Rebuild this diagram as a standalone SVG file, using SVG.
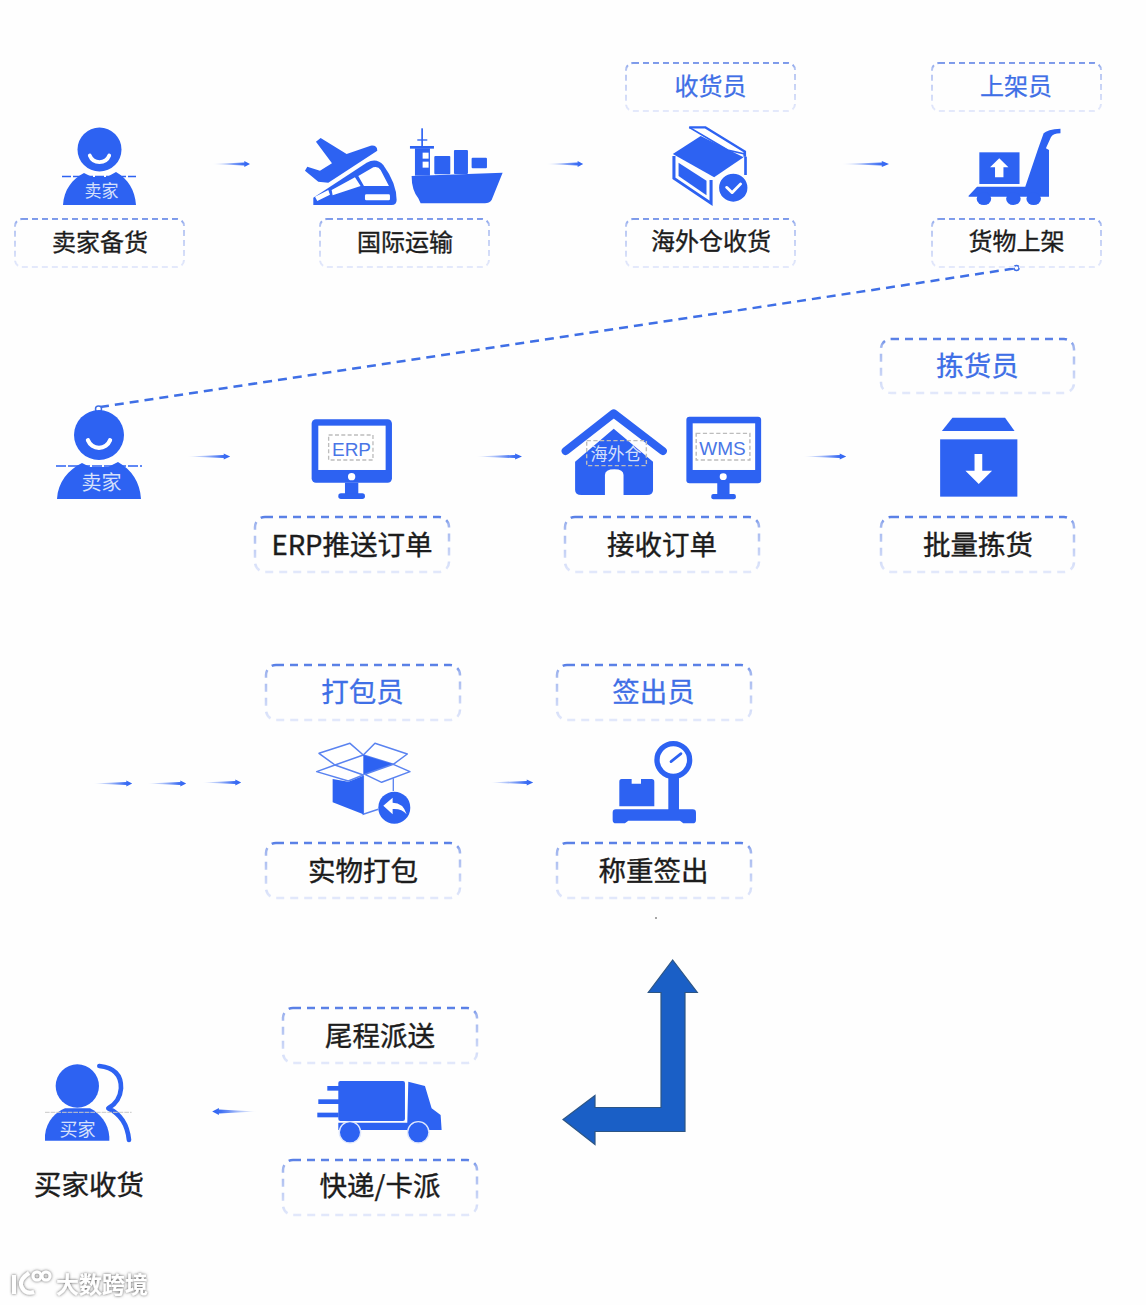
<svg xmlns="http://www.w3.org/2000/svg" width="1146" height="1305" viewBox="0 0 1146 1305">
<style>
text{font-family:"Noto Sans CJK SC","Noto Sans",sans-serif;text-anchor:middle}
.ic{fill:#2d62f2}
.w{fill:#fff}
.box1{fill:none;stroke:url(#g1);stroke-width:2;stroke-dasharray:6 4}
.box2{fill:none;stroke:url(#g2);stroke-width:2.500;stroke-dasharray:8 6}
.t24{font-size:24px;fill:#1c1c1c;stroke:#1c1c1c;stroke-width:.35}
.b24{font-size:24px;fill:#3f6fe6;stroke:#3f6fe6;stroke-width:.25}
.t28{font-size:27.5px;fill:#1c1c1c;stroke:#1c1c1c;stroke-width:.4}
.b28{font-size:27.5px;fill:#3f6fe6;stroke:#3f6fe6;stroke-width:.3}
.pl{fill:#d5e0fb}
.cap{fill:#4a76e6;font-family:"Liberation Sans",Arial,sans-serif}
.dash{fill:none;stroke:#bdbdbd;stroke-width:4;stroke-dasharray:12 7}
.ol{fill:#fff;stroke:#5a83f0;stroke-width:4.500;stroke-linejoin:round}
.wm{fill:#fff;font-size:23px;font-weight:700;filter:url(#sh)}
</style>
<defs>
<linearGradient id="g1" x1="0" y1="0" x2="0" y2="1"><stop offset="0" stop-color="#7d9aea"/><stop offset=".12" stop-color="#b4c4f2"/><stop offset="1" stop-color="#e4e9fb"/></linearGradient>
<linearGradient id="g2" x1="0" y1="0" x2="0" y2="1"><stop offset="0" stop-color="#587fe6"/><stop offset=".12" stop-color="#9fb4ee"/><stop offset="1" stop-color="#e2e8fb"/></linearGradient>
<linearGradient id="ag"><stop offset="0" stop-color="#2d62f2" stop-opacity="0"/><stop offset=".4" stop-color="#2d62f2" stop-opacity=".4"/><stop offset=".8" stop-color="#2d62f2" stop-opacity=".9"/><stop offset="1" stop-color="#2d62f2"/></linearGradient>
<path id="arr" d="M0 0 L34 -1.800 L34 -3.200 L40 0 L34 3.200 L34 1.800 Z" fill="url(#ag)"/>
<filter id="sh" x="-20%" y="-30%" width="140%" height="160%"><feDropShadow dx="0" dy="0" stdDeviation="1.500" flood-color="#555"/></filter>
<g id="smile"><path d="M-13 -2 A14 14 0 0 0 13 -2" fill="none" stroke="#fff" stroke-width="5" stroke-linecap="round"/></g>
</defs>
<rect width="1146" height="1305" fill="#fefefe"/>

<g id="connectors">
<use href="#arr" transform="translate(212,164) scale(.95,.9)"/>
<use href="#arr" transform="translate(546,164) scale(.93,.9)"/>
<use href="#arr" transform="translate(841,164) scale(1.2,.9)"/>
<use href="#arr" transform="translate(187,456.5) scale(1.08,.9)"/>
<use href="#arr" transform="translate(476,456.5) scale(1.15,.9)"/>
<use href="#arr" transform="translate(803,456.5) scale(1.08,.9)"/>
<use href="#arr" transform="translate(93,783.5) scale(.98,.9)"/>
<use href="#arr" transform="translate(147,783.5) scale(.98,.9)"/>
<use href="#arr" transform="translate(202,782.5) scale(.98,.9)"/>
<use href="#arr" transform="translate(490,782.5) scale(1.08,.9)"/>
<use href="#arr" transform="translate(257,1111.5) scale(-1.12,1.1)"/>
<path d="M100 407 L1014 268.500" fill="none" stroke="#3f6fe6" stroke-width="2.500" stroke-dasharray="9 6"/>
<circle cx="1016.500" cy="268" r="2.500" fill="#fff" stroke="#3f6fe6" stroke-width="1.500"/>
<circle cx="98.500" cy="409" r="3" fill="#fff" stroke="#3f6fe6" stroke-width="1.500"/>
<path id="big-arrow" d="M672.700 960 L697.300 992.500 L685 992.500 L685 1131.500 L595 1131.500 L595 1144.500 L563 1119.500 L595 1095.500 L595 1107.500 L661 1107.500 L661 992.500 L648.300 992.500 Z" fill="#1a5fc6" stroke="#2c5585" stroke-width="1.200"/>
<circle cx="656" cy="918" r="1" fill="#888"/>
</g>

<g id="seller-prep">
<circle class="ic" cx="99.500" cy="149.500" r="22"/>
<use href="#smile" transform="translate(99.500,157) scale(.75)"/>
<path class="ic" d="M63 205 C64 190 72 179 84 173 L92 177 L107 177 L116 172 C128 179 135 190 136 205 Z"/>
<path d="M62 176.500 H136" stroke="#2d62f2" stroke-width="1.500" stroke-dasharray="9 2"/>
<text x="101.500" y="197" font-size="17" class="pl">卖家</text>
<rect class="box1" x="15" y="219" width="169" height="48" rx="7"/>
<text class="t24" x="100" y="251">卖家备货</text>
</g>

<g id="intl-transport">
<g transform="translate(0,50) scale(.3333)">
<path class="ic" d="M948 275 L962 264 L1040 312 L1112 287 Q1132 285 1132 302 L985 398 L955 395 L915 362 L922 350 L960 362 L996 340 Z"/>
<path class="ic" d="M940 465 L940 443 L1100 338 Q1130 322 1150 345 Q1190 400 1190 450 Q1190 465 1175 465 Z"/>
<path class="w" d="M1075 378 L1120 352 Q1135 348 1142 360 L1167 408 L1092 408 Z M995 420 L1065 382 L1082 408 L998 436 Z M945 440 L985 420 L990 434 L952 453 Z"/>
<rect class="w" x="1095" y="433" width="75" height="18" rx="4"/>
<path class="ic" d="M1235 378 L1508 368 L1475 450 Q1468 460 1455 460 L1262 460 L1255 445 Q1235 420 1235 378 Z"/>
<rect class="ic" x="1303" y="318" width="48" height="55" rx="3"/>
<rect class="ic" x="1362" y="300" width="42" height="72" rx="3"/>
<rect class="ic" x="1415" y="323" width="46" height="32" rx="3"/>
<rect class="ic" x="1245" y="295" width="45" height="82"/>
<rect class="ic" x="1230" y="288" width="72" height="8"/>
<rect class="ic" x="1264" y="235" width="5" height="55"/>
<rect class="ic" x="1252" y="268" width="30" height="4"/>
<rect class="w" x="1268" y="308" width="18" height="18"/>
<rect class="w" x="1268" y="335" width="18" height="18"/>
</g>
<rect class="box1" x="320" y="219" width="169" height="48" rx="7"/>
<text class="t24" x="405" y="251">国际运输</text>
</g>

<g id="overseas-receive">
<rect class="box1" x="626" y="63" width="169" height="48" rx="7"/>
<text class="b24" x="710.500" y="95">收货员</text>
<g transform="translate(540,50) scale(.3827,.3333)">
<path class="ic" d="M347 312 L420 258 L532 322 L455 382 Z"/>
<path d="M390 232 L432 232 L535 305 L535 320" fill="#fff" stroke="#2d62f2" stroke-width="7"/>
<path d="M390 232 L490 300 L535 312" fill="none" stroke="#2d62f2" stroke-width="5"/>
<path d="M350 318 L350 385 L447 460 L447 390" fill="none" stroke="#2d62f2" stroke-width="8"/>
<path d="M537 320 L537 375" stroke="#2d62f2" stroke-width="7"/>
<path class="ic" d="M362 338 L435 392 L435 436 L362 378 Z"/>
<ellipse class="ic" cx="505" cy="413" rx="39" ry="44" stroke="#fff" stroke-width="4"/>
<path d="M488 412 L502 428 L524 402" fill="none" stroke="#fff" stroke-width="8" stroke-linecap="round" stroke-linejoin="round"/>
</g>
<rect class="box1" x="626" y="219" width="169" height="48" rx="7"/>
<text class="t24" x="711" y="250">海外仓收货</text>
</g>

<g id="putaway">
<rect class="box1" x="932" y="63" width="169" height="48" rx="7"/>
<text class="b24" x="1016" y="95">上架员</text>
<g transform="translate(540,50) scale(.3827,.3333)">
<rect class="ic" x="1148" y="307" width="105" height="95"/>
<path class="w" d="M1200 325 L1224 352 L1211 352 L1211 382 L1189 382 L1189 352 L1176 352 Z"/>
<path class="ic" d="M1120 437 L1142 410 L1268 410 L1302 295 L1316 250 Q1325 238 1360 236 L1360 250 Q1340 250 1335 262 L1322 295 L1330 300 L1330 440 L1120 440 Z"/>
<ellipse class="ic" cx="1160" cy="446" rx="19" ry="19"/>
<ellipse class="ic" cx="1237" cy="446" rx="19" ry="19"/>
<ellipse class="ic" cx="1290" cy="446" rx="19" ry="19"/>
</g>
<rect class="box1" x="932" y="219" width="169" height="48" rx="7"/>
<text class="t24" x="1016.500" y="250">货物上架</text>
</g>

<g id="seller-order">
<circle class="ic" cx="99" cy="435" r="25"/>
<use href="#smile" transform="translate(99,442) scale(.85)"/>
<path class="ic" d="M57 499 C58 482 68 470 82 463 L90 467 L108 467 L118 462 C132 470 140 482 141 499 Z"/>
<path d="M56 466 H142" stroke="#2d62f2" stroke-width="1.500" stroke-dasharray="10 2"/>
<text x="101.500" y="490" font-size="20" class="pl">卖家</text>
</g>

<g id="erp-push">
<g transform="translate(30,390) scale(.3333)">
<rect class="ic" x="845" y="88" width="241" height="190" rx="13"/>
<rect class="w" x="865" y="107" width="202" height="133"/>
<circle class="w" cx="965" cy="260" r="11"/>
<rect class="ic" x="945" y="278" width="40" height="36"/>
<rect class="ic" x="925" y="310" width="80" height="17" rx="8"/>
<rect class="dash" x="896" y="135" width="133" height="75"/>
</g>
<text x="351.500" y="456" font-size="19" class="cap">ERP</text>
<rect class="box2" x="255" y="517" width="194" height="55" rx="10"/>
<text class="t28" x="352" y="555">ERP推送订单</text>
</g>

<g id="receive-order">
<g transform="translate(540,330) scale(.351,.3333)">
<path class="ic" d="M100 395 L210 296 L322 395 L322 480 Q322 495 305 495 L238 495 L238 435 Q238 418 212 418 Q185 418 185 435 L185 495 L118 495 Q100 495 100 480 Z"/>
<path d="M73 363 L210 250 L350 363" fill="none" stroke="#2d62f2" stroke-width="24" stroke-linecap="round" stroke-linejoin="round"/>
<rect class="dash" x="133" y="332" width="170" height="75"/>
<rect class="ic" x="417" y="260" width="213" height="200" rx="9"/>
<rect class="w" x="435" y="280" width="178" height="140"/>
<circle class="w" cx="522" cy="440" r="10"/>
<rect class="ic" x="505" y="455" width="35" height="40"/>
<rect class="ic" x="488" y="492" width="70" height="16" rx="6"/>
<rect class="dash" x="445" y="310" width="153" height="80"/>
</g>
<text x="616" y="460" font-size="17" class="pl">海外仓</text>
<text x="722.500" y="454.500" font-size="19" class="cap">WMS</text>
<rect class="box2" x="565" y="517" width="194" height="55" rx="10"/>
<text class="t28" x="662" y="555">接收订单</text>
</g>

<g id="batch-pick">
<rect class="box2" x="881" y="339" width="193" height="54" rx="10"/>
<text class="b28" x="977.500" y="376">拣货员</text>
<g transform="translate(540,330) scale(.351,.3333)">
<path class="ic" d="M1175 263 L1325 263 L1352 303 L1145 303 Z"/>
<rect class="ic" x="1140" y="328" width="220" height="172"/>
<path class="w" d="M1238 372 L1260 372 L1260 422 L1288 422 L1250 462 L1212 422 L1238 422 Z"/>
</g>
<rect class="box2" x="881" y="517" width="193" height="55" rx="10"/>
<text class="t28" x="978" y="555">批量拣货</text>
</g>

<g id="pack">
<rect class="box2" x="266" y="665" width="194" height="55" rx="10"/>
<text class="b28" x="362.500" y="702">打包员</text>
<g transform="translate(80,655) scale(.3333)">
<path d="M940 370 L940 408" stroke="#5a83f0" stroke-width="4"/>
<path d="M850 362 L850 478 L895 463" fill="none" stroke="#5a83f0" stroke-width="4.500"/>
<path class="ic" d="M758 372 L805 380 L850 362 L850 478 L758 442 Z"/>
<path class="ol" d="M717 295 L810 265 L850 300 L765 330 Z"/>
<path class="ol" d="M850 300 L885 265 L982 297 L940 328 Z"/>
<path class="ic" d="M850 300 L940 328 L850 360 Z"/>
<path class="ol" d="M710 350 L765 330 L850 360 L805 378 Z"/>
<path class="ol" d="M855 358 L940 328 L990 350 L905 382 Z"/>
<circle class="ic" cx="943" cy="458" r="48"/>
<path class="w" d="M910 452 L938 428 L938 443 Q970 443 980 478 Q965 460 938 462 L938 478 Z"/>
</g>
<rect class="box2" x="266" y="843" width="194" height="55" rx="10"/>
<text class="t28" x="363" y="881">实物打包</text>
</g>

<g id="weigh-out">
<rect class="box2" x="557" y="665" width="194" height="55" rx="10"/>
<text class="b28" x="653.500" y="702">签出员</text>
<g transform="translate(480,655) scale(.3333)">
<circle cx="580" cy="315" r="49" fill="#fff" stroke="#2d62f2" stroke-width="16"/>
<path d="M573 320 L603 296" stroke="#2d62f2" stroke-width="8" stroke-linecap="round"/>
<rect class="ic" x="565" y="368" width="32" height="100"/>
<path class="ic" d="M408 463 L638 463 Q648 463 648 473 L648 495 Q648 505 638 505 L610 505 L600 497 L445 497 L435 505 L408 505 Q398 505 398 495 L398 473 Q398 463 408 463 Z"/>
<path class="ic" d="M425 372 L455 372 L455 386 L483 386 L483 372 L515 372 Q523 372 523 380 L523 454 L418 454 L418 380 Q418 372 425 372 Z"/>
</g>
<rect class="box2" x="557" y="843" width="194" height="55" rx="10"/>
<text class="t28" x="653.500" y="881">称重签出</text>
</g>

<g id="last-mile">
<rect class="box2" x="283" y="1008" width="194" height="55" rx="10"/>
<text class="t28" x="380" y="1046">尾程派送</text>
<g transform="translate(20,1000) scale(.3333)">
<rect class="ic" x="955" y="243" width="200" height="120" rx="6"/>
<path class="ic" d="M1165 245 L1215 258 L1235 325 L1262 345 L1265 390 L955 390 L955 368 L1162 368 Z"/>
<rect class="ic" x="922" y="258" width="35" height="14"/>
<rect class="ic" x="895" y="298" width="62" height="14"/>
<rect class="ic" x="892" y="338" width="64" height="14"/>
<circle class="ic" cx="990" cy="397" r="32" stroke="#dfe7fd" stroke-width="4"/>
<circle class="ic" cx="1195" cy="397" r="32" stroke="#dfe7fd" stroke-width="4"/>
</g>
<rect class="box2" x="283" y="1160" width="194" height="55" rx="10"/>
<text class="t28" x="380" y="1196">快递/卡派</text>
</g>

<g id="buyer-receive">
<g transform="translate(20,1000) scale(.3333)">
<circle class="ic" cx="172" cy="258" r="65"/>
<path class="ic" d="M75 422 L75 405 C80 360 110 335 135 325 L210 325 C240 340 265 370 268 410 L268 422 Z"/>
<path d="M238 198 Q305 205 303 265 Q300 305 265 325 Q320 350 327 420" fill="none" stroke="#2d62f2" stroke-width="14" stroke-linecap="round" stroke-linejoin="round"/>
<path d="M75 337 H335" stroke="#c8c8c8" stroke-width="3" stroke-dasharray="14 3"/>
</g>
<text x="77.500" y="1136" font-size="18" class="pl">买家</text>
<text class="t28" x="89" y="1195">买家收货</text>
</g>

<g id="watermark">
<g fill="none" stroke="#fff" stroke-width="3" filter="url(#sh)">
<path d="M14 1275 L14 1294 M29 1273 Q20 1279 21 1285 Q24 1295 34 1292" stroke-width="4"/>
<circle cx="37" cy="1276" r="4"/>
<circle cx="46" cy="1276" r="4"/>
</g>
<text class="wm" x="102" y="1293">大数跨境</text>
</g>
</svg>
